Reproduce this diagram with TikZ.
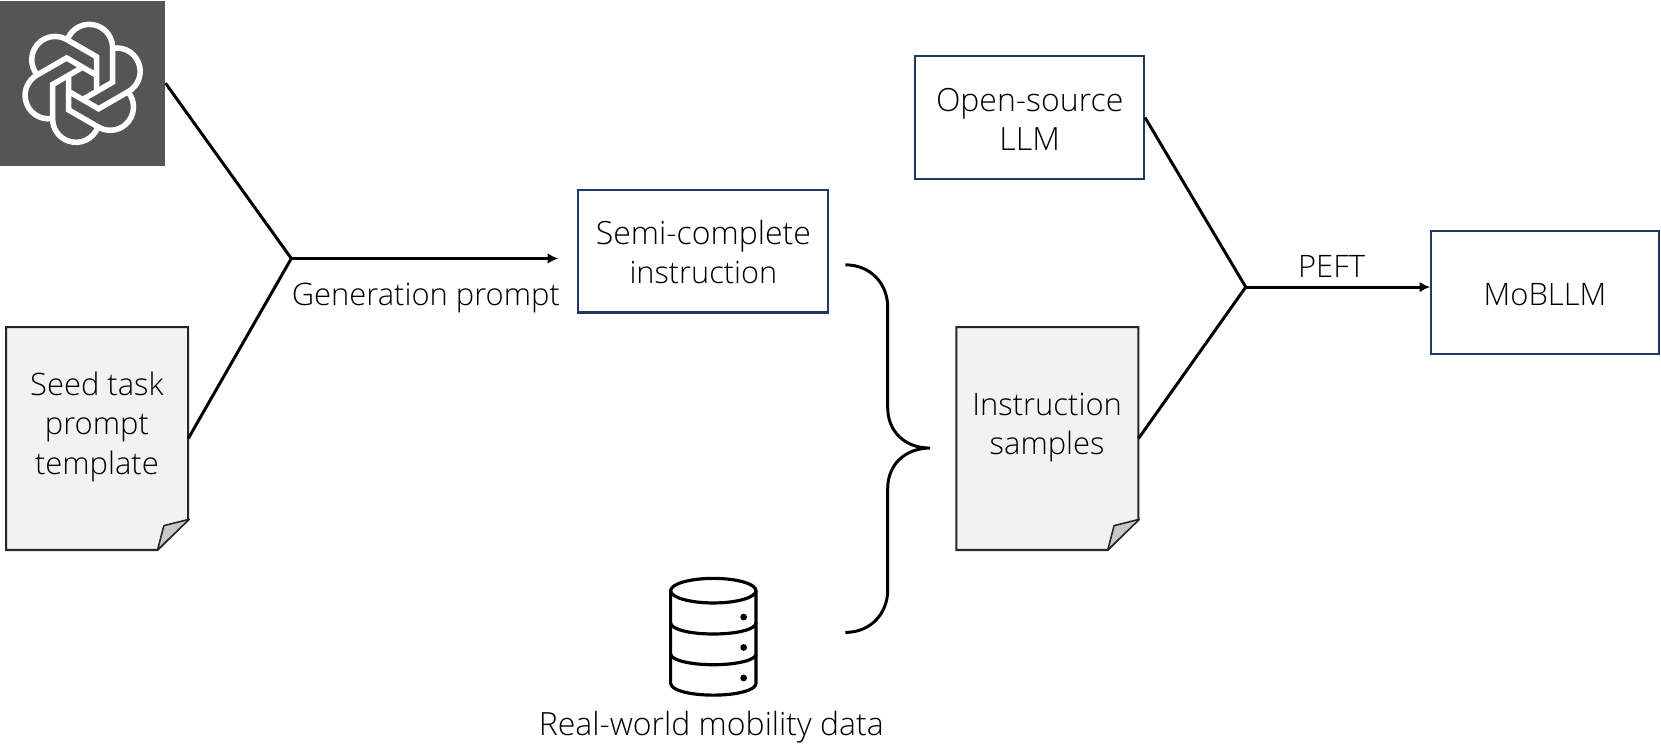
\documentclass[tikz,border=0pt]{standalone}
\usepackage{fontspec}
\setmainfont{Open Sans}[UprightFont=* Light]
\usetikzlibrary{arrows.meta,calc}
\definecolor{navy}{HTML}{1F3864}
\definecolor{logobg}{HTML}{555555}
\definecolor{docfill}{HTML}{F2F2F2}
\definecolor{foldfill}{HTML}{C8C8C8}
\tikzset{
  every node/.style={font=\fontsize{29.2}{37}\selectfont, inner sep=0pt, text=black},
  widetext/.style={font=\fontsize{30.2}{37}\selectfont},
  navybox/.style={draw=navy, line width=1.9pt, fill=white, align=center},
  boxtext/.style={align=center},
  docbody/.style={minimum width=171.5pt, minimum height=210pt, inner sep=0pt},
  docline/.style={draw=black!85, line width=1.9pt, fill=docfill, line join=miter},
  foldline/.style={draw=black!85, line width=1.5pt, fill=foldfill, line join=round},
  conn/.style={draw=black, line width=2.8pt},
  arrowconn/.style={conn, -{Latex[length=10pt,width=10pt]}},
  lbl/.style={align=center},
  dbline/.style={draw=black, line width=3pt, line join=round},
  strand/.style={draw=white, line width=5.2pt, line join=miter}
}
\begin{document}
\begin{tikzpicture}[x=1pt,y=-1pt]
\useasboundingbox (0,0) rectangle (1568,703.3);
% logo
\node[fill=logobg, minimum width=156pt, minimum height=156pt] (logo) at (78,78.5) {};
\begin{scope}[shift={(78,78.7)}, x=0.3147pt, y=0.3147pt]
\foreach \a in {0,60,...,300}{
  \begin{scope}[rotate=\a]
    \draw[strand] (-45.8,130.9) arc [start angle=160, end angle=0, radius=70] -- (90,3.5) -- (0,-48.5);
  \end{scope}
}
\end{scope}
% documents
\node[docbody] (seed) at (91.75,414) {};
\node[docbody] (inst) at (988.75,414) {};
\foreach \d in {seed,inst}{
  \draw[docline] (\d.north west) -- (\d.north east) -- ($(\d.south east)+(0,-29)$)
     -- ($(\d.south east)+(-29,0)$) -- (\d.south west) -- cycle;
  \draw[foldline] ($(\d.south east)+(-29,0)$) -- ($(\d.south east)+(-23,-23)$)
     -- ($(\d.south east)+(1,-29)$) -- cycle;
}
\node[lbl] (seedt) at (91.5,403) {Seed task\\prompt\\template};
\node[lbl] (instt) at (988.5,403.5) {Instruction\\samples};
% boxes
\node[navybox, minimum width=216pt, minimum height=116pt] (open) at (972,111) {};
\node[boxtext, widetext] (opent) at (972,112.5) {Open-source\\LLM};
\node[navybox, minimum width=236pt, minimum height=116pt] (semi) at (664,237) {};
\node[boxtext] (semit) at (664,238) {\fontsize{30.2}{37}\selectfont Semi-complete\\\fontsize{29}{37}\selectfont instruction};
\node[navybox, minimum width=215pt, minimum height=116pt] (mob) at (1458.5,276) {};
\node[boxtext] (mobt) at (1458.5,278) {MoBLLM};
% junctions
\coordinate (j1) at (275,244);
\coordinate (j2) at (1176,271);
\coordinate (a1) at (527,244);
\draw[conn] (logo.east) -- (j1);
\draw[conn] (seed.east) -- (j1);
\draw[arrowconn] (j1) -- (a1);
\draw[conn] (open.east) -- (j2);
\draw[conn] (inst.east) -- (j2);
\draw[arrowconn] (j2) -- (j2 -| mob.west);
\node (gen) at (402,281.5) {Generation prompt};
\node (peft) at (1257,252) {PEFT};
% brace
\coordinate (b1) at (798,250);
\coordinate (b2) at (878,423);
\coordinate (b3) at (798,597);
\draw[conn] (b1) .. controls (822,250) and (838,268) .. (838,290) -- (838,385)
   .. controls (838,407) and (854,423) .. (b2)
   .. controls (854,423) and (838,439) .. (838,461) -- (838,557)
   .. controls (838,579) and (822,597) .. (b3);
% database
\draw[dbline] (633.1,557.6) -- (633.1,645) .. controls (633.1,651.5) and (651,656.2) .. (673.4,656.2)
   .. controls (696,656.2) and (713.7,651.5) .. (713.7,645) -- (713.7,557.6);
\draw[dbline] (673.4,557.6) ellipse [x radius=40.3, y radius=11.6];
\draw[dbline] (633.1,588) .. controls (633.1,594) and (651,598.5) .. (673.4,598.5) .. controls (696,598.5) and (713.7,594) .. (713.7,588);
\draw[dbline] (633.1,617.4) .. controls (633.1,623) and (651,627.5) .. (673.4,627.5) .. controls (696,627.5) and (713.7,623) .. (713.7,617.4);
\fill (702,582.5) circle (3.2) (702,611.2) circle (3.2) (702,640) circle (3.2);
\node[widetext] (dbl) at (671.5,686) {Real-world mobility data};
\end{tikzpicture}
\end{document}
